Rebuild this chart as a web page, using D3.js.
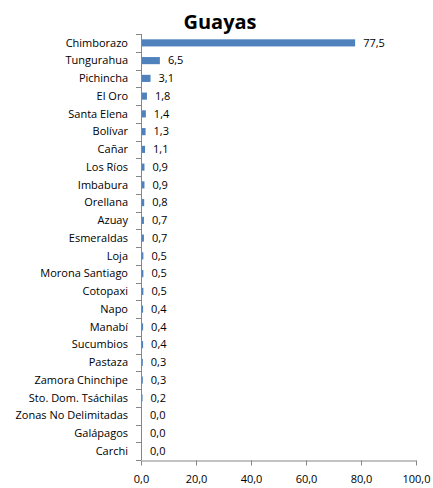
<!DOCTYPE html>
<html>
<head>
<meta charset="utf-8">
<script src="https://cdn.jsdelivr.net/npm/d3@7"></script>
<style>
  html, body { margin: 0; padding: 0; background: #fff; }
  svg { display: block; font-family: "Open Sans", "Noto Sans", sans-serif; }
</style>
</head>
<body>
<svg id="chart" width="433" height="488"></svg>
<script>
// Provinces and their shares (%)
const categories = [
  "Chimborazo", "Tungurahua", "Pichincha", "El Oro", "Santa Elena", "Bolívar",
  "Cañar", "Los Ríos", "Imbabura", "Orellana", "Azuay", "Esmeraldas", "Loja",
  "Morona Santiago", "Cotopaxi", "Napo", "Manabí", "Sucumbios", "Pastaza",
  "Zamora Chinchipe", "Sto. Dom. Tsáchilas", "Zonas No Delimitadas",
  "Galápagos", "Carchi"
];
const values = [
  77.5, 6.5, 3.1, 1.8, 1.4, 1.3, 1.1, 0.9, 0.9, 0.8, 0.7, 0.7, 0.5,
  0.5, 0.5, 0.4, 0.4, 0.4, 0.3, 0.3, 0.2, 0.0, 0.0, 0.0
];
const xTicks = [0, 20, 40, 60, 80, 100];
const title = "Guayas";

const data = categories.map((c, i) => ({ name: c, value: values[i] }));
const fmt = v => d3.format(".1f")(v).replace(".", ",");

const svg = d3.select("#chart");
const plotLeft = 141, plotRight = 416, plotTop = 34, plotBottom = 460;

const x = d3.scaleLinear().domain([0, 100]).range([plotLeft, plotRight]);
const y = d3.scaleBand().domain(categories).range([plotTop, plotBottom]).paddingInner(0.6).paddingOuter(0.3);
const yb = d3.scaleBand().domain(categories).range([plotTop, plotBottom]);

const axisColor = "#868686";

// Title
svg.append("text")
  .attr("x", 220).attr("y", 29)
  .attr("text-anchor", "middle")
  .attr("font-size", 20).attr("font-weight", "bold")
  .attr("fill", "#000")
  .text(title);

// Bars
svg.append("g").selectAll("rect").data(data).join("rect")
  .attr("x", x(0) + 1)
  .attr("y", d => y(d.name))
  .attr("width", d => Math.max(0, x(d.value) - x(0)))
  .attr("height", y.bandwidth())
  .attr("fill", "#4F81BD");

// Value labels
svg.append("g").selectAll("text").data(data).join("text")
  .attr("x", d => x(d.value) + 9)
  .attr("y", d => yb(d.name) + yb.bandwidth() / 2)
  .attr("dy", "0.35em")
  .attr("font-size", 11)
  .attr("fill", "#000")
  .text(d => fmt(d.value));

// Category axis: line with ticks at band boundaries
const gy = svg.append("g");
gy.append("line")
  .attr("x1", plotLeft + 0.5).attr("x2", plotLeft + 0.5)
  .attr("y1", plotTop).attr("y2", plotBottom)
  .attr("stroke", axisColor);
const bounds = categories.map(c => yb(c)).concat([plotBottom]);
gy.selectAll("line.tick").data(bounds).join("line")
  .attr("class", "tick")
  .attr("x1", plotLeft - 5).attr("x2", plotLeft)
  .attr("y1", d => Math.round(d) + 0.5).attr("y2", d => Math.round(d) + 0.5)
  .attr("stroke", axisColor);
gy.selectAll("text").data(categories).join("text")
  .attr("x", 128)
  .attr("y", d => yb(d) + yb.bandwidth() / 2)
  .attr("dy", "0.35em")
  .attr("text-anchor", "end")
  .attr("font-size", 11)
  .attr("fill", "#000")
  .text(d => d);

// Value axis
const gx = svg.append("g").attr("transform", `translate(0,${plotBottom + 0.5})`)
  .call(d3.axisBottom(x).tickValues(xTicks).tickSize(5).tickSizeOuter(0).tickPadding(10).tickFormat(fmt));
gx.select(".domain").attr("stroke", axisColor);
gx.selectAll(".tick line").attr("stroke", axisColor);
gx.selectAll(".tick text")
  .attr("font-size", 11)
  .attr("font-family", "\"Open Sans\", \"Noto Sans\", sans-serif")
  .attr("fill", "#000");
</script>
</body>
</html>
